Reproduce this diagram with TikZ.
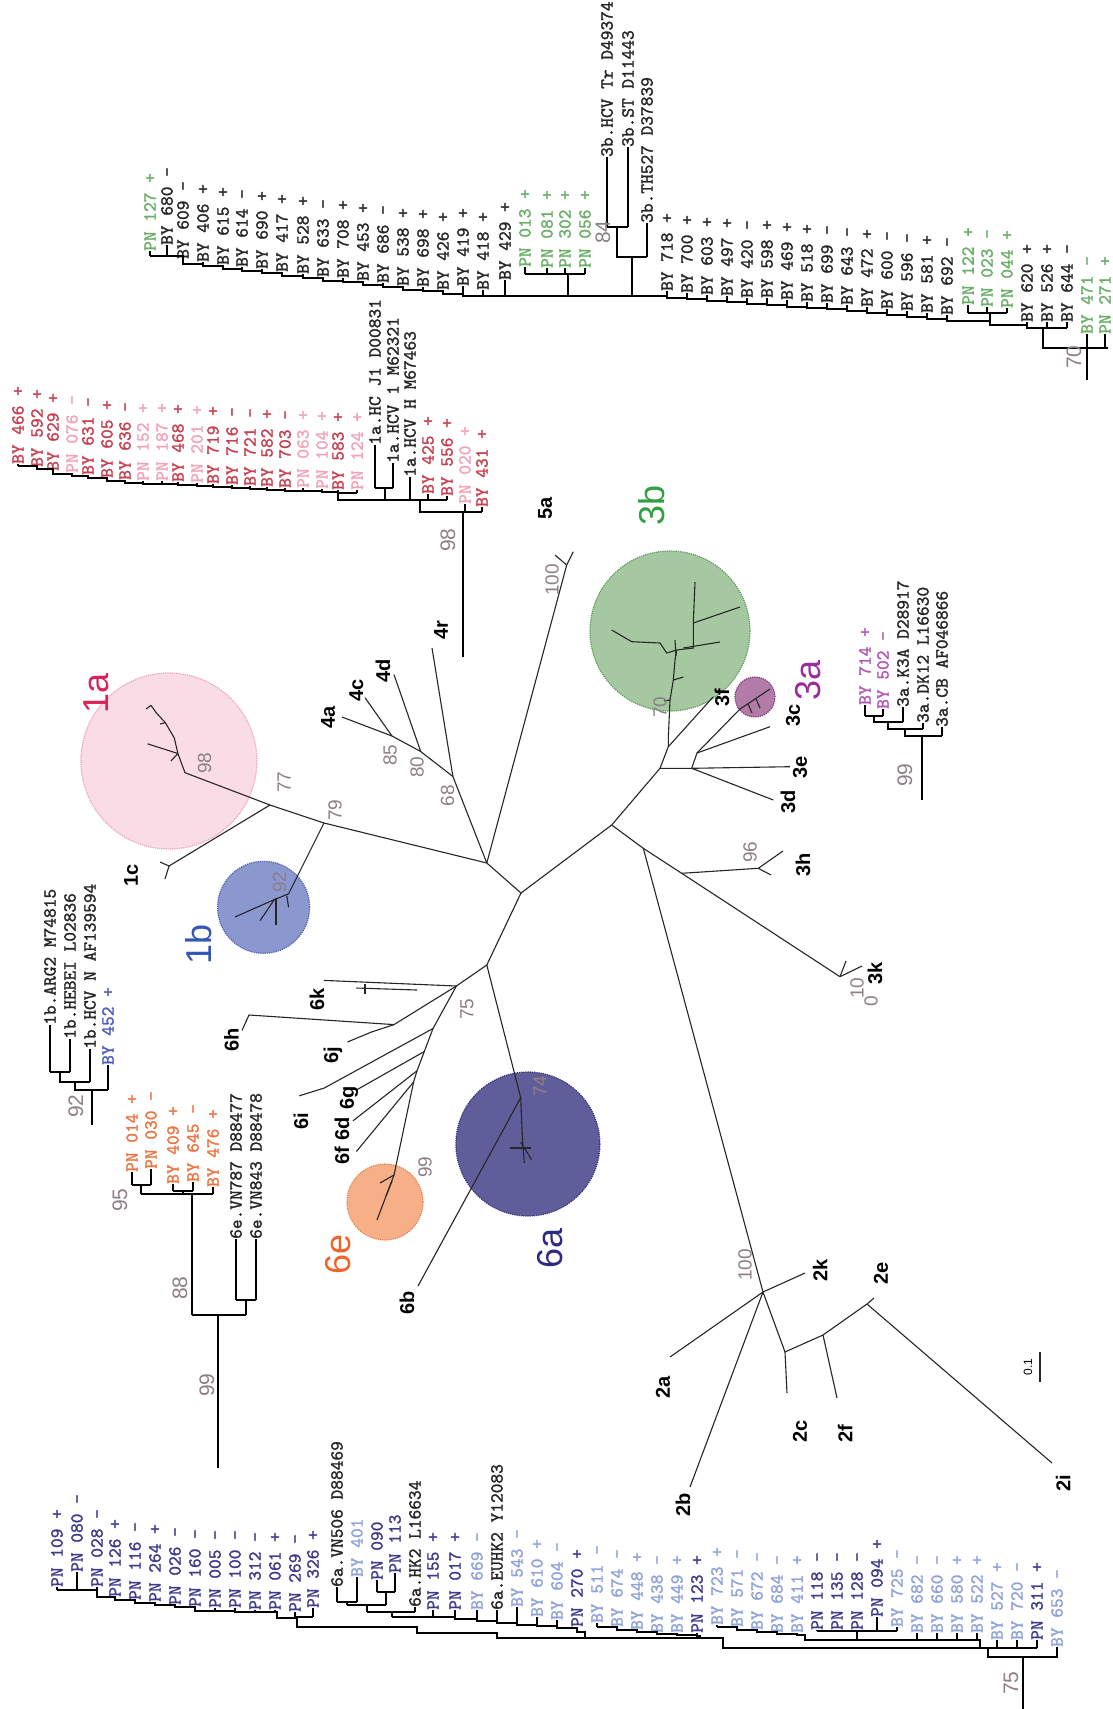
\documentclass[tikz,border=0pt]{standalone}
\usepackage{fontspec}
\setmainfont{Liberation Sans}
\newfontfamily\labfont{lmmono10-regular}[Extension=.otf,FakeBold=1.5]
\definecolor{bsc}{HTML}{8E7E88}
\definecolor{cr}{HTML}{C8404F}
\definecolor{cp}{HTML}{F2A3B6}
\definecolor{cg}{HTML}{6AAE68}
\definecolor{ck}{HTML}{262626}
\definecolor{cb}{HTML}{4C5CC0}
\definecolor{cm}{HTML}{B257B4}
\definecolor{co}{HTML}{EE7440}
\definecolor{cn}{HTML}{3E3A8E}
\definecolor{cl}{HTML}{8FA3DA}
\definecolor{L1a}{HTML}{D8245A}
\definecolor{L1b}{HTML}{3556B8}
\definecolor{L3b}{HTML}{2FA043}
\definecolor{L3a}{HTML}{9A2C9C}
\definecolor{L6e}{HTML}{F0642A}
\definecolor{L6a}{HTML}{2C2A84}
\definecolor{f1a}{HTML}{FADCE6}\definecolor{d1a}{HTML}{EDA3BD}
\definecolor{f1b}{HTML}{8B97CF}\definecolor{d1b}{HTML}{4E5DB5}
\definecolor{f3b}{HTML}{A5C8A1}\definecolor{d3b}{HTML}{5A9A58}
\definecolor{f3a}{HTML}{B27BA8}\definecolor{d3a}{HTML}{7B3C78}
\definecolor{f6e}{HTML}{F6AF86}\definecolor{d6e}{HTML}{EA8552}
\definecolor{f6a}{HTML}{5F5D9A}\definecolor{d6a}{HTML}{35337C}
\begin{document}
\begin{tikzpicture}[x=1pt,y=-1pt,
 lab/.style={rotate=90,anchor=west,inner sep=0pt,font=\labfont\fontsize{18.5}{18.5}\selectfont},
 tk/.style={line width=1.4pt,black},
 bb/.style={line width=1.8pt,black},
 tr/.style={line width=1.1pt,black!85},
 bs/.style={rotate=90,inner sep=0pt,text=bsc,font=\fontsize{19}{19}\selectfont},
 bsr/.style={rotate=90,inner sep=0pt,text=bsc,font=\fontsize{21}{21}\selectfont},
 sub/.style={rotate=90,inner sep=0pt,font=\bfseries\fontsize{20}{20}\selectfont},
 big/.style={rotate=90,inner sep=0pt,font=\fontsize{36}{36}\selectfont},
 blob/.style={densely dotted,line width=1.2pt}]
\useasboundingbox (0,0) rectangle (1112,1709);
\fill[white] (0,0) rectangle (1112,1709);

% ---------- coloured clusters
\coordinate (c1a) at (168.9,761);
\coordinate (c1b) at (263.6,907.3);
\coordinate (c3b) at (670,631);
\coordinate (c3a) at (755,697);
\coordinate (c6e) at (385,1202);
\coordinate (c6a) at (527.9,1144);
\filldraw[blob,fill=f1a,draw=d1a] (c1a) circle (88pt);
\filldraw[blob,fill=f1b,draw=d1b] (c1b) circle (46pt);
\filldraw[blob,fill=f3b,draw=d3b] (c3b) circle (80pt);
\filldraw[blob,fill=f3a,draw=d3a] (c3a) circle (20pt);
\filldraw[blob,fill=f6e,draw=d6e] (c6e) circle (38pt);
\filldraw[blob,fill=f6a,draw=d6a] (c6a) circle (72pt);

% ---------- unrooted tree: nodes
\coordinate (A) at (486.8,863);
\coordinate (B) at (521,893);
\coordinate (J3) at (611.7,825);
\coordinate (C) at (486.8,965);
\coordinate (D) at (456.4,986);
\coordinate (n79) at (324,823);
\coordinate (n77) at (270,805);
\coordinate (n98) at (185,772.7);
\coordinate (f1c) at (169,866);
\coordinate (n92) at (288.6,893.8);
\coordinate (n68) at (452.9,776.5);
\coordinate (n80) at (420.7,751.5);
\coordinate (n85) at (392,736);
\coordinate (t4a) at (342,717);
\coordinate (t4c) at (365,697.7);
\coordinate (t4d) at (394,674.6);
\coordinate (t4r) at (432,648);
\coordinate (n5a) at (566.7,565);
\coordinate (n74) at (520.7,1097.7);
\coordinate (t6b) at (418,1286);
\coordinate (t6k) at (324,980.4);
\coordinate (H) at (394,1024.6);
\coordinate (t6h) at (249,1015);
\coordinate (j6) at (370.7,1032.3);
\coordinate (t6j) at (347.5,1042);
\coordinate (S2) at (433,1028.5);
\coordinate (S3) at (424.3,1051.5);
\coordinate (S4) at (417,1070.8);
\coordinate (S5) at (413.6,1082);
\coordinate (i6) at (324.3,1088);
\coordinate (t6i) at (299.3,1095.8);
\coordinate (t6g) at (356.4,1090);
\coordinate (t6d) at (353,1120.8);
\coordinate (t6f) at (356.4,1151.5);
\coordinate (e6) at (394,1175);
\coordinate (t6e) at (377,1220);
\coordinate (hk) at (643.3,848.3);
\coordinate (h3) at (681.7,873.3);
\coordinate (t3h) at (758.3,868.3);
\coordinate (t3k) at (840,976.7);
\coordinate (n3) at (660,768.3);
\coordinate (n3c) at (691.7,768.3);
\coordinate (t3e) at (790,766.7);
\coordinate (t3d) at (773.3,800);
\coordinate (n3a) at (697,753);
\coordinate (t3c) at (770,726.7);
\coordinate (t3a) at (770,689);
\coordinate (n3f) at (668.3,746.7);
\coordinate (t3f) at (713.3,696.7);
\coordinate (N2) at (763,1292);
\coordinate (t2k) at (805,1273);
\coordinate (t2a) at (670,1357);
\coordinate (t2b) at (690,1487);
\coordinate (n2c) at (785,1352);
\coordinate (t2c) at (787,1393);
\coordinate (n2f) at (823,1335);
\coordinate (t2f) at (837,1398);
\coordinate (n2e) at (867,1304);
\coordinate (t2e) at (874,1298);
\coordinate (t2i) at (1052,1463);

% ---------- unrooted tree: branches
\draw[tr] (A) -- (B) -- (J3);
\draw[tr] (B) -- (C) -- (D);
\draw[tr] (A) -- (n79) -- (n77) -- (n98);
\draw[tr] (n98) -- (181.4,763) -- (177.9,753.5) -- (174.3,738) -- (165.4,722.7) -- (156.4,713) -- (151,705.4);
\draw[tr] (177.9,753.5) -- (147.5,743.8);
\draw[tr] (177.9,753.5) -- (171,761);
\draw[tr] (151,705.4) -- (146,709);
\draw[tr] (165.4,722.7) -- (160,724);
\draw[tr] (n77) -- (f1c) -- (160,862);
\draw[tr] (f1c) -- (165,879);
\draw[tr] (n79) -- (n92) -- (274.3,899.6) -- (235,917);
\draw[tr] (274.3,899.6) -- (260,920.8);
\draw[tr] (276,897.7) -- (276,924.6);
\draw[tr] (286.8,895.8) -- (288.6,907.3);
\draw[tr] (A) -- (n68) -- (n80) -- (n85) -- (t4a);
\draw[tr] (n85) -- (t4c);
\draw[tr] (n80) -- (t4d);
\draw[tr] (n68) -- (t4r);
\draw[tr] (A) -- (n5a) -- (573.3,551.7);
\draw[tr] (n5a) -- (555,555);
\draw[tr] (C) -- (n74) -- (522.5,1140) -- (524.3,1163);
\draw[tr] (510,1148) -- (531.4,1148);
\draw[tr] (520.7,1142) -- (531.4,1159.5);
\draw[tr] (n74) -- (t6b);
\draw[tr] (D) -- (t6k);
\draw[tr] (356.4,988) -- (417,990);
\draw[tr] (365,984) -- (365,994);
\draw[tr] (D) -- (H) -- (t6h) -- (242,1030.4);
\draw[tr] (H) -- (j6) -- (t6j);
\draw[tr] (D) -- (S2) -- (S3) -- (S4) -- (S5);
\draw[tr] (S2) -- (i6) -- (t6i);
\draw[tr] (S3) -- (t6g) -- (367,1084);
\draw[tr] (S4) -- (t6d);
\draw[tr] (S5) -- (t6f);
\draw[tr] (S5) -- (e6) -- (t6e);
\draw[tr] (e6) -- (380,1183);
\draw[tr] (392,1181) -- (386,1196);
% genotype 3
\draw[tr] (J3) -- (hk) -- (h3) -- (t3k);
\draw[tr] (h3) -- (t3h) -- (783,851);
\draw[tr] (t3h) -- (771,875);
\draw[tr] (t3k) -- (862,966);
\draw[tr] (t3k) -- (846,961);
\draw[tr] (J3) -- (n3) -- (n3c) -- (t3e);
\draw[tr] (n3c) -- (t3d);
\draw[tr] (n3c) -- (n3a) -- (t3c);
\draw[tr] (n3a) -- (740,709) -- (t3a);
\draw[tr] (748,704) -- (752,713);
\draw[tr] (756,699) -- (760,708);
\draw[tr] (n3) -- (n3f) -- (t3f);
\draw[tr] (n3f) -- (668.3,738.3) -- (670,700) -- (673.3,680) -- (675,660) -- (676.7,650);
\draw[tr] (673.3,680) -- (683.3,677);
\draw[tr] (670,700) -- (664,701);
\draw[tr] (676.7,650) -- (693.3,648) -- (693.3,623) -- (695,582);
\draw[tr] (693.3,623) -- (740,607);
\draw[tr] (683.3,648) -- (720,642);
\draw[tr] (676.7,650) -- (666.7,653) -- (660,643) -- (631.7,641.7) -- (611.7,630);
\draw[tr] (675,640) -- (676,656);
% genotype 2
\draw[tr] (hk) -- (N2) -- (t2k);
\draw[tr] (N2) -- (t2a);
\draw[tr] (N2) -- (t2b);
\draw[tr] (N2) -- (n2c) -- (t2c);
\draw[tr] (n2c) -- (n2f) -- (t2f);
\draw[tr] (n2f) -- (n2e) -- (t2e);
\draw[tr] (n2e) -- (t2i);
% scale bar
\coordinate (sb1) at (1040,1352);
\coordinate (sb2) at (1040,1382);
\draw[tr] (sb1) -- (sb2);
\node[rotate=90,inner sep=0pt,font=\fontsize{12}{12}\selectfont] (sbl) at (1028,1367) {0.1};

% ---------- unrooted tree: labels
\node[bs] (b98) at (204.6,763) {98};
\node[bs] (b77) at (284,782) {77};
\node[bs] (b79) at (335,810) {79};
\node[bs] (b92) at (279.6,882) {92};
\node[bs] (b68) at (447.5,795.8) {68};
\node[bs] (b80) at (417,767) {80};
\node[bs] (b85) at (390,755.4) {85};
\node[bs] (b74) at (540,1086) {74};
\node[bs] (b75) at (467,1009) {75};
\node[bs] (b99e) at (425,1167) {99};
\node[bs] (b100a) at (552,580) {100};
\node[bs] (b70b) at (660,707) {70};
\node[bs] (b96) at (750,852) {96};
\node[bs] (b10) at (857,988) {10};
\node[bs] (b0) at (871,1001) {0};
\node[bs] (b100b) at (745,1265) {100};
\node[sub] (l1c) at (131,875) {1c};
\node[sub] (l4a) at (328,717) {4a};
\node[sub] (l4c) at (356.4,690) {4c};
\node[sub] (l4d) at (383,670.8) {4d};
\node[sub] (l4r) at (441,630) {4r};
\node[sub] (l5a) at (545,508) {5a};
\node[sub] (l6k) at (317,999.6) {6k};
\node[sub] (l6h) at (231.4,1040) {6h};
\node[sub] (l6j) at (333,1055.4) {6j};
\node[sub] (l6i) at (301,1120.8) {6i};
\node[sub] (l6g) at (349,1097.7) {6g};
\node[sub] (l6d) at (342,1128.5) {6d};
\node[sub] (l6f) at (342,1155.4) {6f};
\node[sub] (l6b) at (407,1303) {6b};
\node[sub] (l3c) at (793,715) {3c};
\node[sub] (l3e) at (800,767) {3e};
\node[sub] (l3d) at (788,802) {3d};
\node[sub] (l3f) at (722,698) {3f};
\node[sub] (l3h) at (803,865) {3h};
\node[sub] (l3k) at (875,973) {3k};
\node[sub] (l2a) at (663,1387) {2a};
\node[sub] (l2b) at (683,1505) {2b};
\node[sub] (l2c) at (800,1431) {2c};
\node[sub] (l2f) at (845,1434) {2f};
\node[sub] (l2e) at (881,1273) {2e};
\node[sub] (l2i) at (1063,1483) {2i};
\node[sub] (l2k) at (820,1270) {2k};
\node[big,text=L1a] (g1a) at (96,693) {1a};
\node[big,text=L1b] (g1b) at (199,944) {1b};
\node[big,text=L3b] (g3b) at (652,505) {3b};
\node[big,text=L3a] (g3a) at (808,680) {3a};
\node[big,text=L6e] (g6e) at (338,1254) {6e};
\node[big,text=L6a] (g6a) at (550,1248) {6a};

% ---------- 3b rectangular tree
\foreach \x/\s/\b/\c/\t [count=\i] in {
150/251/256/cg/{PN 127 +},167/245/256/ck/{BY 680 -},183/259/264/ck/{BY 609 -},
203/262/266/ck/{BY 406 +},223/265/269/ck/{BY 615 +},242/267/271/ck/{BY 614 -},
262/269/273/ck/{BY 690 +},282/272/276/ck/{BY 417 +},303/274/278/ck/{BY 528 +},
323/277/281/ck/{BY 633 -},343/278/282/ck/{BY 708 +},363/281/285/ck/{BY 453 +},
383/283/287/ck/{BY 686 -},403/286/290/ck/{BY 538 +},423/287/291/ck/{BY 698 +},
443/290/294/ck/{BY 426 +},463/286/296/ck/{BY 419 +},483/290/296/ck/{BY 418 +},
505/280/296/ck/{BY 429 +},525/267/274/cg/{PN 013 +},547/268/274/cg/{PN 081 +},
565/268/274/cg/{PN 302 +},585/268/274/cg/{PN 056 +},
607/157/227/ck/{3b.HCV Tr D49374},628/147/227/ck/{3b.ST D11443},647/223/257/ck/{3b.TH527 D37839},
667/291/298/ck/{BY 718 +},687/293/299/ck/{BY 700 +},707/295/301/ck/{BY 603 +},
727/296/302/ck/{BY 497 +},747/298/304/ck/{BY 420 -},767/298/305/ck/{BY 598 +},
787/300/307/ck/{BY 469 +},807/302/308/ck/{BY 518 +},827/303/309/ck/{BY 699 -},
847/305/311/ck/{BY 643 -},867/307/313/ck/{BY 472 +},887/309/315/ck/{BY 600 -},
907/311/317/ck/{BY 596 -},927/313/319/ck/{BY 581 +},947/315/321/ck/{BY 692 -},
968/305/313/cg/{PN 122 +},987/307/313/cg/{PN 023 -},1007/308/313/cg/{PN 044 +},
1027/322/328/ck/{BY 620 +},1047/322/328/ck/{BY 526 +},1067/322/328/ck/{BY 644 -},
1087/334/348/cg/{BY 471 -},1105/334/348/cg/{PN 271 +}}
{\node[lab,text=\c] (u\i) at (\x,\s) {\t}; \draw[tk] (u\i.west) -- (\x,\b);}
\draw[bb] (150,256) -| (167,256) -| (183,264) -| (203,266) -| (223,269) -| (242,271) -| (262,273) -| (282,276) -| (303,278) -| (323,281) -| (343,282) -| (363,285) -| (383,287) -| (403,290) -| (423,291) -| (443,294) -| (463,296) -| (483,296) -| (505,296) -| (568,296) -| (632,296) -| (667,298) -| (687,299) -| (707,301) -| (727,302) -| (747,304) -| (767,305) -| (787,307) -| (807,308) -| (827,309) -| (847,311) -| (867,313) -| (887,315) -| (907,317) -| (927,319) -| (947,321) -| (990,325) -| (1027,328) -| (1043,348) -| (1108,348);
\draw[bb] (1027,328) -- (1067,328);
\draw[tk] (525,274) -- (585,274) (568,274) -- (568,296);
\draw[tk] (607,227) -- (628,227) (617,227) -- (617,257) -- (647,257) (632,257) -- (632,296);
\draw[tk] (968,313) -- (1007,313) (990,313) -- (990,325);
\coordinate (r3b) at (1087,348);
\coordinate (r3be) at (1087,380);
\draw[tk] (r3b) -- (r3be);
\node[bsr] (b84) at (603,232) {84};
\node[bsr] (b70) at (1074,357) {70};

% ---------- 1a rectangular tree
\foreach \x/\s/\b/\c/\t [count=\i] in {
18/464/466/cr/{BY 466 +},37/467/469/cr/{BY 592 +},53/471/474/cr/{BY 629 +},
72/473/476/cp/{PN 076 -},88/475/478/cr/{BY 631 -},107/478/481/cr/{BY 605 +},
125/480/483/cr/{BY 636 -},143/481/484/cp/{PN 152 +},162/481/484/cp/{PN 187 +},
178/482/485/cr/{BY 468 +},197/483/486/cp/{PN 201 +},213/484/487/cr/{BY 719 +},
232/485/488/cr/{BY 716 -},250/486/489/cr/{BY 721 -},267/487/490/cr/{BY 582 +},
285/488/491/cr/{BY 703 -},303/488/491/cp/{PN 063 +},322/489/492/cp/{PN 104 +},
338/490/493/cr/{BY 583 +},357/490/493/cp/{PN 124 +},
375/445/488/ck/{1a.HC J1 D00831},393/463/488/ck/{1a.HCV 1 M62321},410/477/500/ck/{1a.HCV H M67463},
428/494/500/cr/{BY 425 +},447/496/500/cr/{BY 556 +},465/504/512/cp/{PN 020 +},482/507/512/cr/{BY 431 +}}
{\node[lab,text=\c] (a\i) at (\x,\s) {\t}; \draw[tk] (a\i.west) -- (\x,\b);}
\draw[bb] (18,466) -| (37,469) -| (53,474) -| (72,476) -| (88,478) -| (107,481) -| (125,483) -| (143,484) -| (162,484) -| (178,485) -| (197,486) -| (213,487) -| (232,488) -| (250,489) -| (267,490) -| (285,491) -| (303,491) -| (322,492) -| (338,493) -| (357,493);
\draw[bb] (338,493) -- (338,500) -- (447,500);
\draw[tk] (375,488) -- (393,488) (385,488) -- (385,500);
\draw[bb] (420,500) -- (420,512) -- (482,512);
\coordinate (r1a) at (463,512);
\coordinate (r1ae) at (463,657);
\draw[tk] (r1a) -- (r1ae);
\node[bsr] (b98r) at (448,540) {98};

% ---------- 1b rectangular tree
\foreach \x/\s/\b/\c/\t [count=\i] in {
50/1025/1072/ck/{1b.ARG2 M74815},70/1039/1072/ck/{1b.HEBEI L02836},
90/1049/1082/ck/{1b.HCV N AF139594},108/1065/1090/cb/{BY 452 +}}
{\node[lab,text=\c] (w\i) at (\x,\s) {\t}; \draw[tk] (w\i.west) -- (\x,\b);}
\draw[tk] (50,1072) -- (70,1072) (60,1072) -- (60,1082) -- (90,1082) (75,1082) -- (75,1090) -- (108,1090);
\coordinate (r1b) at (92,1090);
\coordinate (r1be) at (92,1125);
\draw[tk] (r1b) -- (r1be);
\node[bsr] (b92r) at (76,1106) {92};

% ---------- 3a rectangular tree
\foreach \x/\s/\b/\c/\t [count=\i] in {
865/705/716/cm/{BY 714 +},883/709/716/cm/{BY 502 -},903/707/722/ck/{3a.K3A D28917},
923/723/729/ck/{3a.DK12 L16630},942/727/736/ck/{3a.CB AF046866}}
{\node[lab,text=\c] (v\i) at (\x,\s) {\t}; \draw[tk] (v\i.west) -- (\x,\b);}
\draw[tk] (865,716) -- (883,716) (874,716) -- (874,722) -- (903,722) (888,722) -- (888,729) -- (923,729) (905,729) -- (905,736) -- (942,736);
\coordinate (r3a) at (922,736);
\coordinate (r3ae) at (922,800);
\draw[tk] (r3a) -- (r3ae);
\node[bsr] (b99a) at (905,775) {99};

% ---------- 6e rectangular tree
\foreach \x/\s/\b/\c/\t [count=\i] in {
132/1172/1185/co/{PN 014 +},151/1169/1185/co/{PN 030 -},173/1184/1191/co/{BY 409 +},
193/1182/1191/co/{BY 645 -},213/1187/1194/co/{BY 476 +},
236/1239/1300/ck/{6e.VN787 D88477},256/1239/1300/ck/{6e.VN843 D88478}}
{\node[lab,text=\c] (e\i) at (\x,\s) {\t}; \draw[tk] (e\i.west) -- (\x,\b);}
\draw[tk] (132,1185) -- (151,1185) (141,1185) -- (141,1194) (173,1191) -- (193,1191) (183,1191) -- (183,1194) (141,1194) -- (213,1194) (192,1194) -- (192,1315) (236,1300) -- (256,1300) (246,1300) -- (246,1315) (192,1315) -- (246,1315);
\coordinate (r6e) at (218,1315);
\coordinate (r6ee) at (218,1468);
\draw[tk] (r6e) -- (r6ee);
\node[bsr] (b95) at (120,1200) {95};
\node[bsr] (b88) at (180,1288) {88};
\node[bsr] (b99r) at (207,1385) {99};

% ---------- 6a rectangular tree
\foreach \x/\s/\b/\c/\t [count=\i] in {
57/1587/1590/cn/{PN 109 +},77/1572/1590/cn/{PN 080 -},97/1587/1597/cn/{PN 028 -},
115/1597/1600/cn/{PN 126 +},135/1600/1603/cn/{PN 116 -},155/1602/1605/cn/{PN 264 +},
175/1605/1607/cn/{PN 026 -},195/1607/1611/cn/{PN 160 -},215/1608/1611/cn/{PN 005 -},
235/1608/1612/cn/{PN 100 -},255/1610/1612/cn/{PN 312 -},275/1610/1612/cn/{PN 061 +},
295/1612/1617/cn/{PN 269 -},313/1608/1617/cn/{PN 326 +},
337/1587/1602/ck/{6a.VN506 D88469},357/1577/1602/cl/{BY 401},377/1580/1592/cn/{PN 090},
395/1573/1592/cn/{PN 113},415/1607/1612/ck/{6a.HK2 L16634},433/1610/1617/cn/{PN 155 +},
455/1610/1619/cn/{PN 017 +},477/1610/1621/cl/{BY 669 -},497/1610/1623/ck/{6a.EUHK2 Y12083},
517/1607/1625/cl/{BY 543 -},537/1617/1626/cl/{BY 610 +},557/1620/1628/cl/{BY 604 -},
577/1627/1632/cn/{PN 270 +},597/1623/1627/cl/{BY 511 -},617/1627/1630/cl/{BY 674 -},
637/1630/1632/cl/{BY 448 +},657/1633/1634/cl/{BY 438 -},677/1633/1635/cl/{BY 449 +},
697/1633/1636/cn/{PN 123 +},717/1625/1627/cl/{BY 723 +},737/1627/1630/cl/{BY 571 -},
757/1630/1632/cl/{BY 672 -},777/1633/1634/cl/{BY 684 -},797/1633/1635/cl/{BY 411 +},
817/1630/1631/cn/{PN 118 -},837/1630/1631/cn/{PN 135 -},857/1630/1631/cn/{PN 128 -},
877/1617/1631/cn/{PN 094 +},897/1627/1631/cl/{BY 725 -},917/1633/1640/cl/{BY 682 -},
937/1633/1640/cl/{BY 660 -},957/1633/1640/cl/{BY 580 +},977/1633/1640/cl/{BY 522 +},
997/1640/1648/cl/{BY 527 +},1017/1640/1648/cl/{BY 720 -},1037/1640/1648/cn/{PN 311 +},
1057/1647/1657/cl/{BY 653 -}}
{\node[lab,text=\c] (s\i) at (\x,\s) {\t}; \draw[tk] (s\i.west) -- (\x,\b);}
\draw[bb] (57,1590) -| (77,1590) -| (97,1597) -| (115,1600) -| (135,1603) -| (155,1605) -| (175,1607) -| (195,1611) -| (215,1611) -| (235,1612) -| (255,1612) -| (275,1612) -| (277,1618) -| (297,1627) -| (417,1633) -| (497,1638) -| (723,1648) -| (988,1657) -| (1058,1657);
\draw[tk] (295,1617) -- (313,1617);
\draw[tk] (337,1602) -- (357,1602) (347,1602) -- (347,1605) (377,1592) -- (395,1592) (386,1592) -- (386,1605) (347,1605) -- (386,1605) (367,1605) -- (367,1612) (367,1612) -- (415,1612) (392,1612) -- (392,1617);
\draw[bb] (392,1617) -| (433,1617) -| (455,1619) -| (477,1621) -| (497,1623) -| (517,1625) -| (537,1626) -| (557,1628) -| (577,1632) -| (585,1638);
\draw[bb] (597,1627) -| (617,1630) -| (637,1632) -| (657,1634) -| (677,1635) -| (697,1636) -| (700,1638);
\draw[bb] (717,1627) -| (737,1630) -| (757,1632) -| (777,1634) -| (797,1635) -| (805,1640) -- (980,1640) -- (980,1648);
\draw[tk] (817,1631) -- (897,1631) (857,1631) -- (857,1640);
\draw[bb] (988,1648) -- (1037,1648);
\coordinate (r6a) at (1023,1657);
\coordinate (r6ae) at (1023,1709);
\draw[tk] (r6a) -- (r6ae);
\node[bsr] (b75r) at (1011,1683) {75};
\end{tikzpicture}
\end{document}
